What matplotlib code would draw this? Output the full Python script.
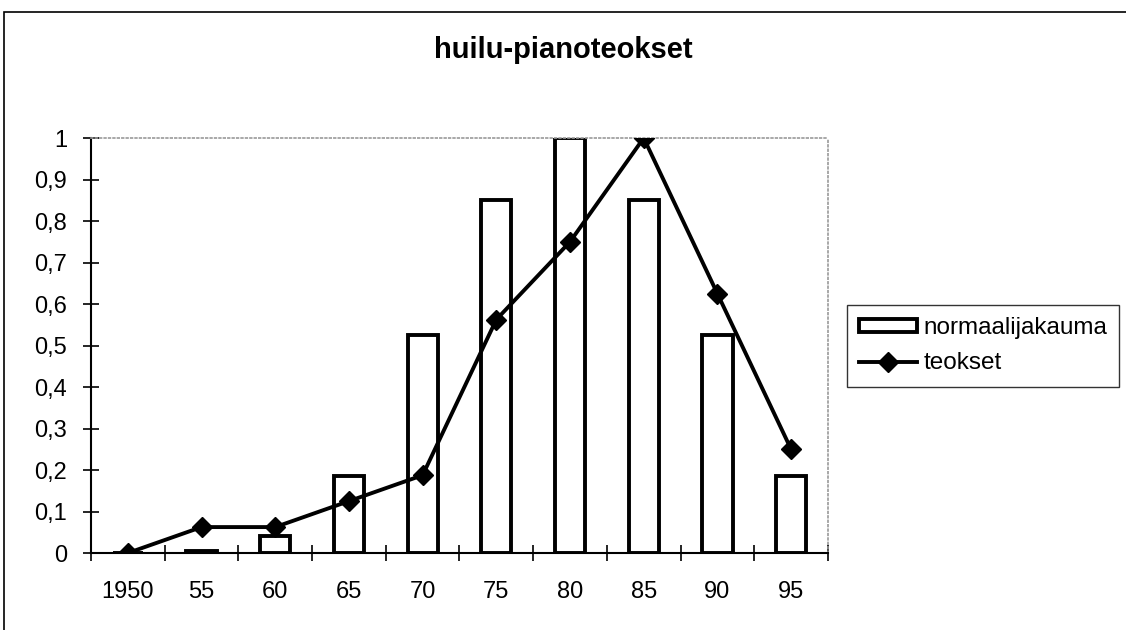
import numpy as np
import matplotlib
matplotlib.use('Agg')
import matplotlib.pyplot as plt
from matplotlib.patches import Rectangle

plt.rcParams['font.family'] = ['Liberation Sans', 'DejaVu Sans']

categories = ['1950', '55', '60', '65', '70', '75', '80', '85', '90', '95']
normaalijakauma = [0.0, 0.005, 0.04, 0.185, 0.525, 0.85, 1.0, 0.85, 0.525, 0.185]
teokset = [0.0, 0.0625, 0.0625, 0.125, 0.1875, 0.5625, 0.75, 1.0, 0.625, 0.25]
yticklabels = ['0', '0,1', '0,2', '0,3', '0,4', '0,5', '0,6', '0,7', '0,8', '0,9', '1']

fig = plt.figure(figsize=(11.26, 6.3), dpi=100)
ax = fig.add_axes([0.0808, 0.1222, 0.6545, 0.6587])

x = np.arange(len(categories))
bars = ax.bar(x, normaalijakauma, width=0.41, facecolor='white', edgecolor='black',
              linewidth=2.8, label='normaalijakauma', zorder=2)
line, = ax.plot(x, teokset, color='black', linewidth=2.8, marker='D', markersize=10,
                label='teokset', zorder=3)

ax.set_xlim(-0.5, len(categories) - 0.5)
ax.set_ylim(0, 1)
ax.set_yticks(np.arange(0, 1.01, 0.1))
ax.set_yticklabels(yticklabels, fontsize=17)
ax.set_xticks(x)
ax.set_xticklabels(categories, fontsize=17)
ax.tick_params(axis='x', length=0, pad=20)
ax.set_xticks(np.arange(-0.5, len(categories), 1), minor=True)
ax.tick_params(axis='x', which='minor', direction='inout', length=11, width=1.2)
ax.tick_params(axis='y', direction='inout', length=12, width=1.2, pad=11)

for s in ['top', 'right']:
    ax.spines[s].set_color('#999999')
    ax.spines[s].set_linestyle(':')
    ax.spines[s].set_linewidth(1.2)
for s in ['left', 'bottom']:
    ax.spines[s].set_color('black')
    ax.spines[s].set_linewidth(1.5)

fig.text(0.5, 0.9087, 'huilu-pianoteokset', ha='center', va='baseline',
         fontsize=21, fontweight='bold')

leg = fig.legend(handles=[bars, line], labels=['normaalijakauma', 'teokset'],
                 loc='upper left', bbox_to_anchor=(0.752, 0.516), fontsize=17.5,
                 frameon=True, fancybox=False, handlelength=2.4, handleheight=0.5,
                 handletextpad=0.25, borderpad=0.5, labelspacing=0.55, borderaxespad=0)
leg.get_frame().set_edgecolor('black')
leg.get_frame().set_linewidth(1.0)

fig.patches.append(Rectangle((0.0036, -0.1), 1.2, 1.081, transform=fig.transFigure,
                             fill=False, edgecolor='black', linewidth=1.2))

fig.savefig('out.png', dpi=100)
plt.close()
